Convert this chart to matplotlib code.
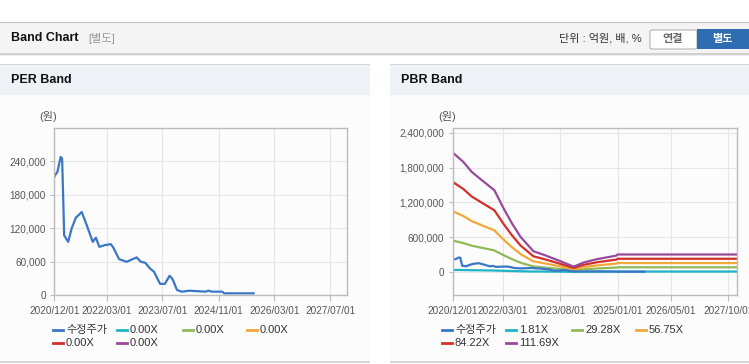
import matplotlib
matplotlib.use("Agg")
import matplotlib.pyplot as plt
from matplotlib.lines import Line2D
from matplotlib.patches import Rectangle, FancyBboxPatch
from matplotlib.ticker import FuncFormatter
import pandas as pd

plt.rcParams['font.family'] = ['Liberation Sans', 'Noto Sans CJK KR']

W, H = 749, 364

# 수정주가 (both charts)
price_dates = ['2020-12-01', '2020-12-07', '2020-12-28', '2021-01-25', '2021-02-07', '2021-02-13',
               '2021-02-19', '2021-02-25', '2021-04-01', '2021-05-01', '2021-06-07', '2021-07-28',
               '2021-09-10', '2021-11-01', '2021-11-28', '2021-12-28', '2022-02-15', '2022-04-07',
               '2022-04-28', '2022-06-18', '2022-08-21', '2022-11-18', '2022-12-25', '2023-02-01',
               '2023-03-13', '2023-04-18', '2023-06-10', '2023-07-22', '2023-09-01', '2023-09-28',
               '2023-11-04', '2023-12-16', '2024-02-21', '2024-07-07', '2024-08-04', '2024-09-04',
               '2024-12-01', '2024-12-19', '2025-09-01']
price = [212000, 215000, 221000, 248000, 245000, 200000,
         155000, 107000, 95500, 119500, 139000, 149000,
         125000, 95500, 103000, 86500, 89600, 91300,
         85400, 64500, 59600, 67500, 59600, 57900,
         47800, 41800, 20000, 20000, 34600, 28000,
         9000, 6000, 7700, 6000, 7700, 6000,
         6000, 3000, 3000]

# PER band multiples (all zero)
per_multiples = [0.0, 0.0, 0.0, 0.0, 0.0]

# PBR bands
pbr_multiples = [1.81, 29.28, 56.75, 84.22, 111.69]
band_dates = ['2020-12-01', '2021-03-07', '2021-05-22', '2021-08-22', '2021-12-13', '2022-03-07',
              '2022-05-22', '2022-08-07', '2022-12-01', '2023-03-15', '2023-08-01', '2023-12-01',
              '2024-03-01', '2024-07-01', '2024-12-20', '2025-01-01', '2027-12-16']
band_1_81 = [33000, 31000, 28000, 26000, 23000, 18000, 14000, 10000, 6000, 5000, 3000, 1500,
             2600, 3600, 4500, 4900, 4900]
band_29_28 = [540000, 498000, 452000, 415000, 370000, 287000, 219000, 158000, 94000, 75000, 48000,
              24000, 42000, 58000, 73000, 79000, 79000]
band_56_75 = [1047000, 965000, 877000, 804000, 717000, 556000, 425000, 307000, 181000, 146000,
              94000, 46000, 82000, 112000, 142000, 152000, 152000]
band_84_22 = [1554000, 1432000, 1302000, 1194000, 1064000, 826000, 630000, 455000, 269000,
              217000, 139000, 68000, 122000, 166000, 211000, 226000, 226000]
band_111_69 = [2061000, 1899000, 1727000, 1583000, 1411000, 1095000, 836000, 604000, 357000,
               288000, 185000, 90000, 162000, 220000, 280000, 300000, 300000]

per_xticks = ['2020-12-01', '2022-03-01', '2023-07-01', '2024-11-01', '2026-03-01', '2027-07-01']
pbr_xticks = ['2020-12-01', '2022-03-01', '2023-08-01', '2025-01-01', '2026-05-01', '2027-10-01']
per_yticks = [0, 60000, 120000, 180000, 240000]
pbr_yticks = [0, 600000, 1200000, 1800000, 2400000]

colors = ['#3a76c6', '#1eb3c6', '#90b95a', '#f2a838', '#d1302c', '#974a9c']


def fx(x):
    return x / W


def fy(y):
    return 1 - y / H


def rect(x0, y0, x1, y1, color, z=0):
    fig.add_artist(Rectangle((fx(x0), fy(y1)), fx(x1 - x0), (y1 - y0) / H,
                             transform=fig.transFigure, facecolor=color,
                             edgecolor='none', zorder=z))


fig = plt.figure(figsize=(W / 100, H / 100), dpi=100)
fig.patch.set_facecolor('white')

# page header
rect(0, 22, W, 53, '#f4f4f4')
rect(0, 21.5, W, 23, '#c4c4c4')
rect(0, 53, W, 54.5, '#d0d0d0')
rect(0, 54.5, W, 56, '#ececec')
fig.text(fx(11), fy(38), 'Band Chart', fontsize=9, fontweight='bold', va='center', color='#111111')
fig.text(fx(88), fy(38), '[별도]', fontsize=8, va='center', color='#999999')
fig.text(fx(642), fy(38), '단위 : 억원, 배, %', fontsize=8, va='center', ha='right', color='#333333')
fig.add_artist(FancyBboxPatch((fx(650), fy(49)), fx(47), 19 / H, boxstyle='round,pad=0,rounding_size=0.004',
                              transform=fig.transFigure, facecolor='white', edgecolor='#b5b5b5', lw=0.8))
fig.text(fx(673), fy(39), '연결', fontsize=8, fontweight='bold', ha='center', va='center', color='#666666')
rect(697, 29, W, 49, '#2f6db3', 1)
fig.text(fx(722), fy(39), '별도', fontsize=8, fontweight='bold', ha='center', va='center', color='white')

# panels
for x0, x1, title in [(0, 370, 'PER Band'), (390, W, 'PBR Band')]:
    rect(x0, 64, x1, 95, '#eef2f7')
    rect(x0, 63.5, x1, 65, '#d6d6d6')
    rect(x0, 95, x1, 361, '#fcfcfc')
    rect(x0, 361, x1, 363, '#d6d6d6')
    fig.text(fx(x0 + 11), fy(80), title, fontsize=9, fontweight='bold', va='center', color='#111111')


def setup(ax, xticks, yticks, ylim, xlim):
    ax.set_facecolor('none')
    ax.set_xlim(pd.to_datetime(xlim[0]), pd.to_datetime(xlim[1]))
    ax.set_ylim(*ylim)
    ax.set_xticks(pd.to_datetime(xticks))
    ax.set_xticklabels([t.replace('-', '/') for t in xticks])
    ax.set_yticks(yticks)
    ax.yaxis.set_major_formatter(FuncFormatter(lambda v, p: '{:,.0f}'.format(v)))
    ax.grid(True, color='#e6e6e6', lw=0.8)
    ax.set_axisbelow(True)
    for s in ax.spines.values():
        s.set_color('#bcbcbc')
        s.set_linewidth(1)
    ax.tick_params(axis='x', length=4, color='#bcbcbc', labelsize=7.2, labelcolor='#555555', pad=4)
    ax.tick_params(axis='y', length=3, color='#bcbcbc', labelsize=7.2, labelcolor='#555555', pad=3)


def legend(x0, labels):
    cols = [0, 64, 130, 194]
    for i, (lab, c) in enumerate(zip(labels, colors)):
        x = x0 + cols[i % 4]
        y = 330 + 13 * (i // 4)
        fig.add_artist(Line2D([fx(x), fx(x + 10)], [fy(y), fy(y)], color=c, lw=2,
                              transform=fig.transFigure))
        fig.text(fx(x + 13), fy(y), lab, fontsize=8, va='center', color='#333333')


# PER chart
ax1 = fig.add_axes([fx(54.3), fy(295), fx(293), 167 / H])
setup(ax1, per_xticks, per_yticks, (0, 300000), ('2020-12-01', '2027-11-26'))
ax1.plot(pd.to_datetime(price_dates), price, color=colors[0], lw=1.6)
fig.text(fx(48), fy(117), '(원)', fontsize=8, ha='center', va='center', color='#555555')
legend(53, ['수정주가'] + ['{:.2f}X'.format(m) for m in per_multiples])

# PBR chart
ax2 = fig.add_axes([fx(452.7), fy(295), fx(284.6), 166.7 / H])
setup(ax2, pbr_xticks, pbr_yticks, (-400000, 2480000), ('2020-12-01', '2027-12-21'))
bd = pd.to_datetime(band_dates)
for vals, c in zip([band_1_81, band_29_28, band_56_75, band_84_22, band_111_69], colors[1:]):
    ax2.plot(bd, vals, color=c, lw=1.6)
ax2.plot(pd.to_datetime(price_dates), price, color=colors[0], lw=1.6)
fig.text(fx(447), fy(117), '(원)', fontsize=8, ha='center', va='center', color='#555555')
legend(442, ['수정주가'] + ['{:.2f}X'.format(m) for m in pbr_multiples])

fig.savefig('out.png', dpi=100)
